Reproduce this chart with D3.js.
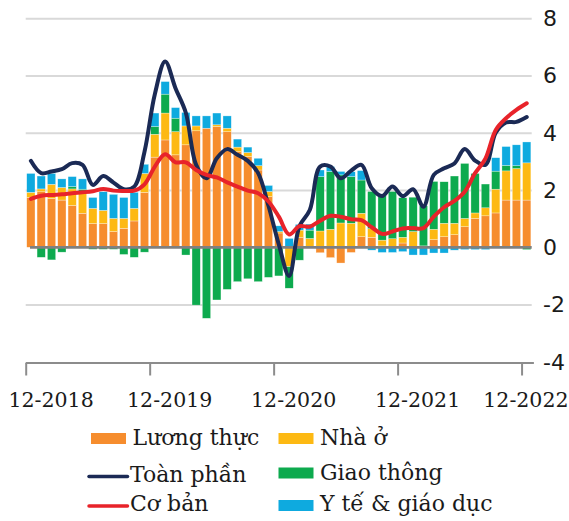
<!DOCTYPE html>
<html>
<head>
<meta charset="utf-8">
<script src="https://cdn.jsdelivr.net/npm/d3@7"></script>
<style>
  html, body { margin: 0; padding: 0; background: #ffffff; }
  svg { display: block; }
</style>
</head>
<body>
<svg id="chart" width="569" height="521"></svg>
<script>
// ---------------- DATA ----------------
// Monthly, 12-2018 .. 12-2022 (49 months)
const tickLabels = ["12-2018", "12-2019", "12-2020", "12-2021", "12-2022"];
const tickIndex  = [0, 12, 24, 36, 48];

const food = [1.74,1.94,1.71,1.65,1.46,1.19,0.83,0.83,0.55,0.66,0.92,1.92,
              3.15,3.75,3.23,3.58,4.07,4.16,4.22,4.04,3.34,3.17,2.70,1.77,
              0.50,0.00,0.35,0.00,-0.19,-0.36,-0.55,-0.18,0.37,0.35,0.05,0.00,0.15,
              0.00,0.00,0.27,0.37,0.44,0.72,1.01,1.10,1.20,1.65,1.65,1.65];
const housing = [0.18,0.10,0.49,0.44,0.58,0.75,0.53,0.46,0.46,0.35,0.44,0.66,
                 0.80,0.94,0.81,0.66,0.17,0.00,0.06,0.12,0.16,0.14,0.15,0.18,
                 0.05,-0.68,0.25,0.31,0.57,0.63,0.85,0.84,0.82,0.30,0.20,0.30,0.20,
                 0.55,0.05,0.36,0.47,0.40,0.29,0.19,0.28,0.83,1.02,1.10,1.30];
const transport = [0.00,-0.35,-0.44,-0.17,0.08,0.09,-0.07,-0.07,-0.07,-0.25,-0.35,-0.17,
                   0.27,0.66,0.47,-0.27,-2.02,-2.48,-1.84,-1.47,-1.20,-1.10,-1.20,-1.05,
                   -1.00,-0.75,-0.45,0.29,1.90,2.02,1.68,1.63,1.16,1.30,1.57,1.65,1.38,
                   1.20,1.40,1.67,1.45,1.65,1.92,1.38,0.83,0.63,0.19,0.10,-0.08];
const healthEdu = [0.66,0.45,0.38,0.30,0.35,0.36,0.38,0.65,0.84,0.73,0.56,0.32,
                   0.47,0.44,0.37,0.47,0.35,0.43,0.41,0.43,0.28,0.19,0.26,0.21,
                   0.20,0.31,0.20,0.21,0.23,0.17,0.12,0.17,0.33,-0.10,-0.18,-0.18,-0.15,
                   -0.27,-0.27,-0.20,-0.20,-0.10,-0.08,-0.08,-0.08,0.47,0.66,0.73,0.73];
const headline = [3.02,2.59,2.65,2.73,2.94,2.88,2.18,2.49,2.26,2.03,2.12,3.34,
                  5.35,6.49,5.56,4.70,2.88,2.41,3.11,3.43,3.23,3.02,2.59,1.45,
                  0.10,-1.00,0.74,1.30,2.82,2.82,2.41,2.68,2.88,2.06,1.79,2.12,1.79,
                  2.03,1.42,2.53,2.76,2.93,3.43,3.03,2.88,4.00,4.36,4.38,4.55];
const core = [1.69,1.80,1.83,1.85,1.89,1.92,1.96,2.04,1.98,1.97,1.98,2.20,
              2.82,3.25,2.97,2.97,2.70,2.53,2.44,2.27,2.12,1.98,1.89,1.60,
              1.07,0.45,0.74,0.72,0.93,1.10,1.07,0.98,0.95,0.70,0.47,0.55,0.66,
              0.67,0.67,1.07,1.40,1.62,1.94,2.59,3.10,4.10,4.51,4.80,5.03];

const yTicks = [-4, -2, 0, 2, 4, 6, 8];
const seriesKeys   = ["food", "housing", "transport", "healthEdu"];
const seriesNames  = ["Lương thực", "Nhà ở", "Giao thông", "Y tế & giáo dục"];
const seriesColors = ["#f68d2e", "#fdb913", "#0daa4e", "#0eaadf"];
const lineNames  = ["Toàn phần", "Cơ bản"];
const lineColors = ["#1b2a55", "#e8232a"];

// ---------------- BUILD ----------------
const n = food.length;
const rows = d3.range(n).map(i => ({
  i, food: food[i], housing: housing[i], transport: transport[i], healthEdu: healthEdu[i]
}));

const svg = d3.select("#chart");
const serif = "'DejaVu Serif', serif";
const sans = "'DejaVu Sans', sans-serif";

const left = 25.7, right = 531.9;
const y = d3.scaleLinear().domain([-4, 8]).range([361.8, 18.3]);
const xLin = d3.scaleLinear().domain([0, n]).range([left, right]);
const xBand = d3.scaleBand().domain(d3.range(n)).range([left, right])
  .paddingInner(0.2).paddingOuter(0.1);

// gridlines + y labels
const yAxis = d3.axisRight(y).tickValues(yTicks).tickSize(-(531.7 - left)).tickPadding(11.3)
  .tickFormat(d => d);
const gy = svg.append("g").attr("transform", "translate(531.7,0)").call(yAxis);
gy.select(".domain").remove();
gy.selectAll(".tick line")
  .attr("stroke", "#d9d9d9").attr("stroke-width", 2)
  .attr("display", d => (d === 0 || d === -4) ? "none" : null);
gy.selectAll(".tick text")
  .attr("font-family", sans).attr("font-size", 22).attr("fill", "#1a1a1a")
  .attr("dy", "0.33em");

// bars
const stack = d3.stack().keys(seriesKeys).offset(d3.stackOffsetDiverging);
const stacked = stack(rows);
svg.append("g").selectAll("g").data(stacked).join("g")
  .attr("fill", (d, k) => seriesColors[k])
  .selectAll("rect").data(d => d).join("rect")
  .attr("x", d => xBand(d.data.i))
  .attr("width", xBand.bandwidth())
  .attr("y", d => y(Math.max(d[0], d[1])))
  .attr("height", d => Math.abs(y(d[0]) - y(d[1])))
  .attr("stroke", "#ffffff").attr("stroke-width", 0.5).attr("stroke-opacity", 0.6);

// zero line
svg.append("line")
  .attr("x1", 30).attr("x2", 531.7)
  .attr("y1", y(0)).attr("y2", y(0))
  .attr("stroke", "#808080").attr("stroke-width", 2.8);

// x axis
const xAxis = d3.axisBottom(xLin).tickValues(tickIndex)
  .tickFormat((d, k) => tickLabels[k]).tickSize(12.5).tickSizeOuter(0);
const gx = svg.append("g").attr("transform", "translate(0,363)").call(xAxis);
gx.select(".domain").attr("stroke", "#8c8c8c").attr("stroke-width", 2)
  .attr("d", `M${left},0H${right + 2}`);
gx.selectAll(".tick line").attr("stroke", "#8c8c8c").attr("stroke-width", 2);
gx.selectAll(".tick text")
  .attr("font-family", serif).attr("font-size", 20.5).attr("fill", "#1a1a1a")
  .attr("y", 44).attr("dy", 0)
  .attr("text-anchor", "middle")
  .each(function(d) {
    const w = this.getComputedTextLength();
    let cx = xLin(d) + 19.5;
    cx = Math.max(cx, 8 + w / 2);
    cx = Math.min(cx, 568 - w / 2);
    d3.select(this).attr("x", cx - xLin(d));
  });

// lines
const lineGen = d3.line()
  .x((d, i) => xBand(i) + xBand.bandwidth() / 2)
  .y(d => y(d))
  .curve(d3.curveCatmullRom.alpha(0.5));
[headline, core].forEach((arr, k) => {
  svg.append("path").datum(arr)
    .attr("d", lineGen)
    .attr("fill", "none")
    .attr("stroke", lineColors[k])
    .attr("stroke-width", 4)
    .attr("stroke-linejoin", "round")
    .attr("stroke-linecap", "round");
});

// legend
const lg = svg.append("g");
const legendItems = [
  {type: "rect", color: seriesColors[0], label: seriesNames[0], x: 91, sy: 433, ty: 445},
  {type: "rect", color: seriesColors[1], label: seriesNames[1], x: 278.5, sy: 433, ty: 445},
  {type: "line", color: lineColors[0], label: lineNames[0], x: 89, sy: 476.5, ty: 482},
  {type: "rect", color: seriesColors[2], label: seriesNames[2], x: 278.5, sy: 467.5, ty: 479.5},
  {type: "line", color: lineColors[1], label: lineNames[1], x: 89, sy: 506, ty: 511},
  {type: "rect", color: seriesColors[3], label: seriesNames[3], x: 278.5, sy: 500, ty: 510.7}
];
legendItems.forEach(it => {
  if (it.type === "rect") {
    lg.append("rect").attr("x", it.x).attr("y", it.sy).attr("width", 35).attr("height", 11)
      .attr("fill", it.color);
    lg.append("text").attr("x", it.x + 41.5).attr("y", it.ty)
      .attr("font-family", serif).attr("font-size", 22).attr("fill", "#1a1a1a")
      .text(it.label);
  } else {
    lg.append("line").attr("x1", it.x).attr("x2", it.x + 38.5)
      .attr("y1", it.sy).attr("y2", it.sy)
      .attr("stroke", it.color).attr("stroke-width", 3.5).attr("stroke-linecap", "round");
    lg.append("text").attr("x", it.x + 41).attr("y", it.ty)
      .attr("font-family", serif).attr("font-size", 22).attr("fill", "#1a1a1a")
      .text(it.label);
  }
});
</script>
</body>
</html>
